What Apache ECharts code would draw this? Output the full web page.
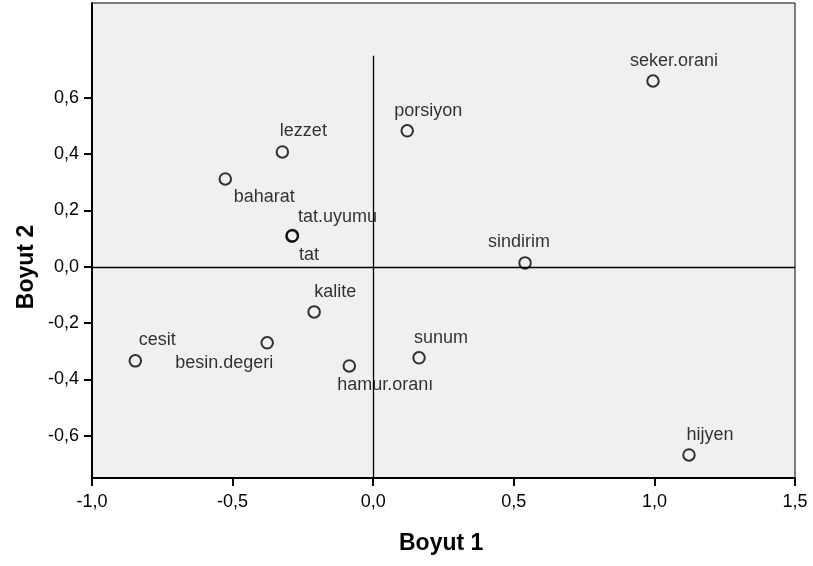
<!DOCTYPE html>
<html>
<head>
<meta charset="utf-8">
<script src="https://cdn.jsdelivr.net/npm/echarts@6/dist/echarts.min.js"></script>
<style>
html,body{margin:0;padding:0;background:#fff;}
#chart{width:813px;height:566px;}
</style>
</head>
<body>
<div id="chart"></div>
<script>
// Data
const names = ['seker.orani','porsiyon','lezzet','baharat','tat.uyumu','tat','sindirim','kalite','cesit','besin.degeri','hamur.oranı','sunum','hijyen'];
const dim1 = [0.995, 0.121, -0.323, -0.526, -0.287, -0.289, 0.540, -0.210, -0.846, -0.377, -0.085, 0.163, 1.123];
const dim2 = [0.660, 0.483, 0.408, 0.312, 0.111, 0.109, 0.014, -0.160, -0.334, -0.270, -0.352, -0.323, -0.668];
const xTicks = [-1.0, -0.5, 0.0, 0.5, 1.0, 1.5];
const yTicks = [-0.6, -0.4, -0.2, 0.0, 0.2, 0.4, 0.6];

// Label offsets (layout only)
const labelOffsets = {
  'seker.orani': [21, -20], 'porsiyon': [21, -20], 'lezzet': [21, -21], 'baharat': [39, 18],
  'tat.uyumu': [45, -19], 'tat': [17, 19], 'sindirim': [-6, -21], 'kalite': [21, -20],
  'cesit': [22, -21], 'besin.degeri': [-43, 20], 'hamur.oranı': [36, 19], 'sunum': [22, -20],
  'hijyen': [21, -20]
};

const fmt = v => (Math.abs(v) < 1e-9 ? 0 : v).toFixed(1).replace('.', ',');
const FONT = 'Liberation Sans, Arial, sans-serif';

const points = names.map((n, i) => ({
  name: n,
  value: [dim1[i], dim2[i]],
  label: { offset: labelOffsets[n] }
}));

const chart = echarts.init(document.getElementById('chart'));
chart.setOption({
  animation: false,
  backgroundColor: '#ffffff',
  grid: {
    left: 92, right: 18, top: 3, bottom: 88,
    show: true, backgroundColor: '#f0f0f0', borderColor: '#000', borderWidth: 1
  },
  xAxis: {
    type: 'value', min: -1.0, max: 1.5, interval: 0.5,
    axisLine: { show: true, onZero: false, lineStyle: { color: '#000', width: 2 } },
    axisTick: { show: true, length: 8, lineStyle: { color: '#000', width: 2 }, customValues: xTicks },
    axisLabel: { color: '#000', fontSize: 18, fontFamily: FONT, margin: 15, formatter: v => fmt(v), customValues: xTicks },
    splitLine: { show: false }
  },
  yAxis: {
    type: 'value', min: -0.75, max: 0.937,
    axisLine: { show: true, onZero: false, lineStyle: { color: '#000', width: 2 } },
    axisTick: { show: true, length: 8, lineStyle: { color: '#000', width: 2 }, customValues: yTicks },
    axisLabel: { color: '#000', fontSize: 18, fontFamily: FONT, margin: 13, formatter: v => fmt(v), customValues: yTicks },
    splitLine: { show: false }
  },
  graphic: [
    { type: 'text', left: 399, top: 532, style: { text: 'Boyut 1', font: 'bold 23px ' + FONT, fill: '#000' } },
    { type: 'text', x: 27, y: 267, rotation: Math.PI / 2,
      style: { text: 'Boyut 2', font: 'bold 23px ' + FONT, fill: '#000', align: 'center', verticalAlign: 'middle' } }
  ],
  series: [{
    type: 'scatter',
    data: points,
    symbol: 'circle',
    symbolSize: 11.5,
    itemStyle: { color: 'rgba(0,0,0,0)', borderColor: '#000', borderWidth: 2 },
    label: {
      show: true, position: 'inside', formatter: p => p.name,
      color: '#000', fontSize: 18, fontFamily: FONT
    },
    emphasis: { disabled: true },
    markLine: {
      silent: true, symbol: 'none', animation: false,
      label: { show: false },
      lineStyle: { color: '#000', width: 1.3, type: 'solid' },
      data: [
        [{ coord: [-1.0, 0] }, { coord: [1.5, 0] }],
        [{ coord: [0, -0.75] }, { coord: [0, 0.75] }]
      ]
    },
    z: 3
  }]
});
</script>
</body>
</html>
